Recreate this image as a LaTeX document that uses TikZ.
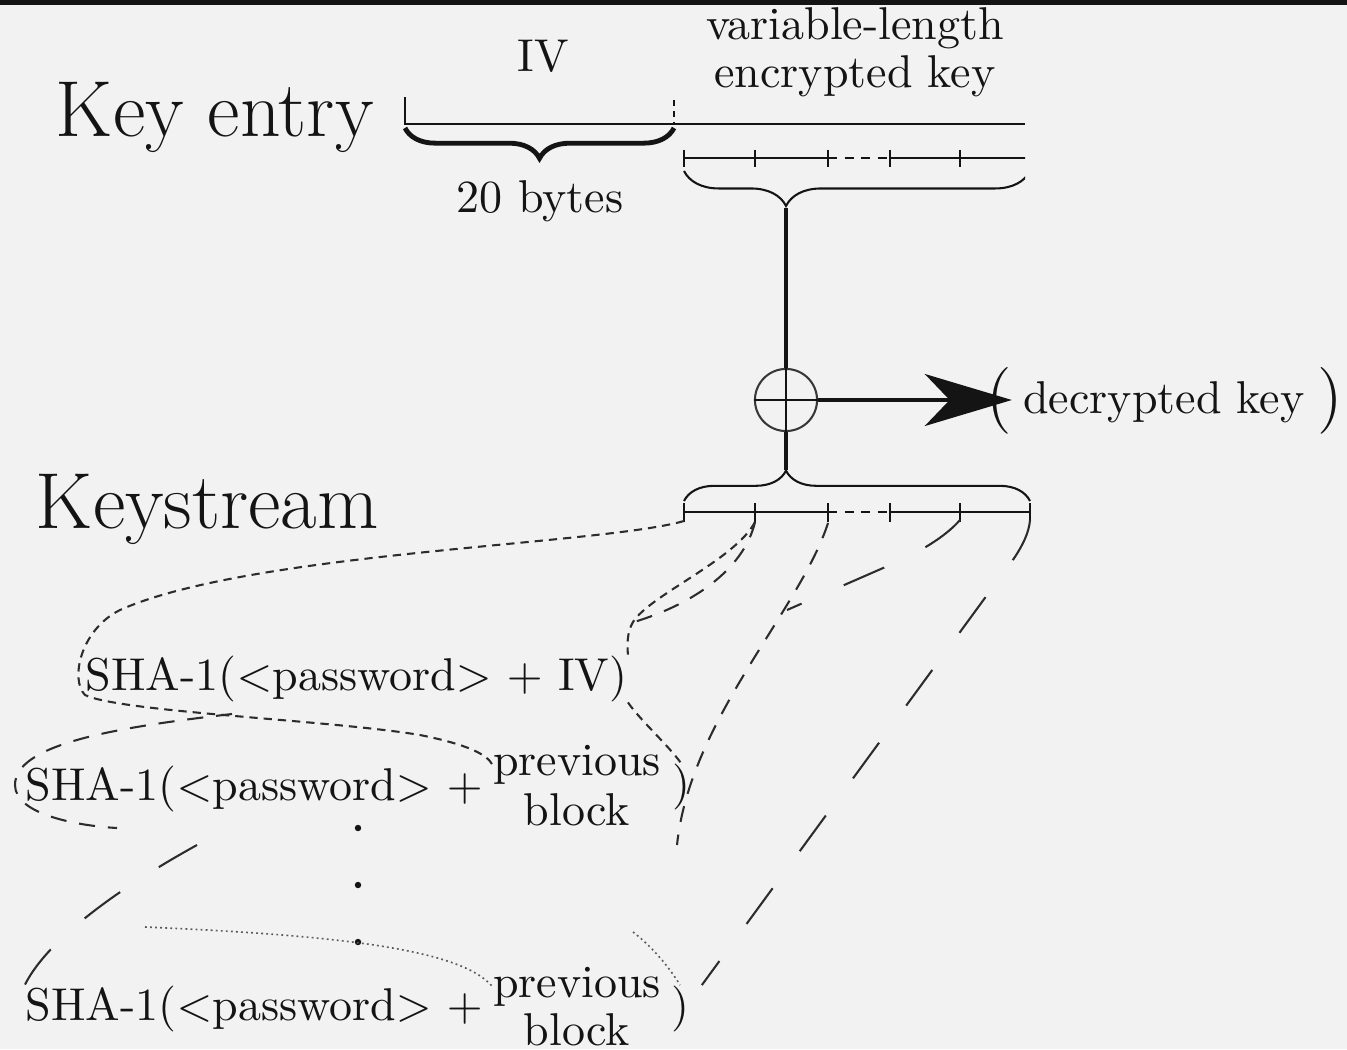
\documentclass[tikz,border=0pt]{standalone}
\usetikzlibrary{decorations.pathreplacing,arrows.meta}
\definecolor{bgc}{HTML}{F2F2F2}
\definecolor{ink}{HTML}{141414}
\begin{document}
\begin{tikzpicture}[x=0.21739pt,y=-0.21739pt,
  txt/.style={inner sep=0pt,font=\fontsize{10}{12}\selectfont,text=ink},
  big/.style={inner sep=0pt,font=\fontsize{17.28}{20}\selectfont,text=ink},
  thinln/.style={line width=0.45pt,draw=ink},
  thickln/.style={line width=0.9pt,draw=ink},
  sdash/.style={line width=0.45pt,draw=ink!90,dash pattern=on 1.8pt off 1.3pt},
  mdash/.style={line width=0.45pt,draw=ink!90,dash pattern=on 3.5pt off 2.8pt},
  ldash/.style={line width=0.45pt,draw=ink!90,dash pattern=on 9.6pt off 10pt},
  fdot/.style={line width=0.35pt,draw=ink!70,dash pattern=on 0.4pt off 0.7pt},
  dotnode/.style={circle,fill=ink,inner sep=0pt,minimum size=1.4pt},
]
% canvas
\fill[bgc] (0,0) rectangle (1347,1049);
\fill[ink] (0,0) rectangle (1347,5);
\useasboundingbox (0,0) rectangle (1347,1049);

% titles
\node[big,anchor=base west] (ke) at (55,137) {Key entry};
\node[big,anchor=base west] (ks) at (35,528) {Keystream};

% key entry labels
\node[txt,anchor=base] (iv) at (543,72) {IV};
\node[txt,anchor=base] (vl) at (855,40) {variable-length};
\node[txt,anchor=base] (ek) at (855,88) {encrypted key};
\node[txt,anchor=base] (tb) at (540,213) {20 bytes};

% key entry bar and rulers (clipped at right)
\coordinate (kL) at (405,124);
\coordinate (kM) at (674,124);
\coordinate (kR) at (1025,124);
\coordinate (kLt) at (405,97);
\coordinate (kMt) at (674,100);
\begin{scope}
  \clip (0,0) rectangle (1025,300);
  \draw[thinln] (kLt) -- (kL) -- (kR);
  \draw[thinln,dash pattern=on 1.4pt off 1pt] (kMt) -- (kM);
  \coordinate (e0) at (684,158);
  \coordinate (e2) at (828,158);
  \coordinate (e3) at (890,158);
  \coordinate (e5) at (1040,158);
  \draw[thinln] (e0) -- (e2);
  \draw[thinln,dash pattern=on 2pt off 1.6pt] (e2) -- (e3);
  \draw[thinln] (e3) -- (e5);
  \foreach \x in {684,755,828,890,960} \draw[thinln] (\x,150) -- (\x,167);
  \draw[thinln,decorate,decoration={brace,mirror,amplitude=7.6pt,aspect=0.2948}] (684,171) -- (1030,171);
\end{scope}
\draw[line width=1.05pt,draw=ink,decorate,decoration={brace,mirror,amplitude=6.6pt}] (405,128) -- (674,128);

% xor and connections
\coordinate (bt1) at (786,208);
\coordinate (bt2) at (786,470);
\node[circle,draw=ink!85,line width=0.45pt,minimum size=13.5pt,inner sep=0pt] (xor) at (786,400) {};
\draw[thinln] (xor.north) -- (xor.south) (xor.west) -- (xor.east);
\draw[thickln] (bt1) -- (xor.north);
\draw[thickln] (xor.south) -- (bt2);

% decrypted key
\node[txt,anchor=base west] (dk) at (986,413) {\raisebox{-1pt}{\fontsize{14.5}{15}\selectfont(}\hspace{2.4pt}decrypted key\hspace{2.8pt}\raisebox{-1pt}{\fontsize{14.5}{15}\selectfont)}};
\draw[thickln,-{Stealth[length=18.9pt,width=11.3pt,inset=5.4pt]},shorten >=-5.6pt] (xor.east) -- (xor.east -| dk.west);

% keystream brace and ruler
\draw[thinln,decorate,decoration={brace,amplitude=6.6pt,aspect=0.2948}] (684,501) -- (1030,501);
\draw[thinln] (684,512) -- (828,512);
\draw[thinln,dash pattern=on 2pt off 1.6pt] (828,512) -- (890,512);
\draw[thinln] (890,512) -- (1030,512);
\foreach \x in {684,755,828,890,960,1030} \draw[thinln] (\x,503) -- (\x,522);
\coordinate (t0) at (684,521);
\coordinate (t1) at (755,522);
\coordinate (t2) at (828,523);
\coordinate (t4) at (960,520);
\coordinate (t5) at (1030,520);

% SHA lines
\node[txt,anchor=base west] (h1) at (85,690) {SHA-1($<$password$>$ $+$ IV)};
\node[txt,anchor=base west] (h2) at (25,800) {SHA-1($<$password$>$ $+$};
\node[txt,anchor=base] (p2) at (577,775) {previous};
\node[txt,anchor=base] (b2) at (577,825) {block};
\node[txt] (c2) at (681,787) {)};
\node[txt,anchor=base west] (h3) at (25,1020) {SHA-1($<$password$>$ $+$};
\node[txt,anchor=base] (p3) at (577,997) {previous};
\node[txt,anchor=base] (b3) at (577,1045) {block};
\node[txt] (c3) at (680,1009) {)};

% vertical dots
\node[dotnode] (d1) at (358,828) {};
\node[dotnode] (d2) at (358,885) {};
\node[dotnode] (d3) at (358,942) {};

% first block (short dashes)
\draw[sdash] (t0) .. controls (600,545) and (250,552) .. (120,610)
  .. controls (80,630) and (70,680) .. (85,695)
  .. controls (120,712) and (330,720) .. (420,735)
  .. controls (470,745) and (487,755) .. (p2.west);
\draw[sdash] (t1) .. controls (735,560) and (650,595) .. (633,622)
  .. controls (627,632) and (627,645) .. (h1.north east);
\draw[sdash] (h1.south east) .. controls (640,720) and (668,745) .. (c2.north);

% second block (medium dashes)
\coordinate (m1a) at (634,622);
\coordinate (m1b) at (232,714);
\coordinate (m1c) at (117,828);
\coordinate (m2e) at (677,845);
\draw[mdash] (t1) .. controls (745,565) and (700,602) .. (m1a);
\draw[mdash] (m1b) .. controls (110,728) and (15,745) .. (15,785)
  .. controls (15,815) and (80,826) .. (m1c);
\draw[mdash] (t2) .. controls (800,610) and (690,720) .. (m2e);

% last block (long dashes)
\coordinate (l1a) at (787,610);
\coordinate (l1b) at (197,845);
\draw[ldash] (t4) .. controls (945,537) and (920,552) .. (890,565) -- (l1a);
\draw[ldash] (l1b) .. controls (130,882) and (50,935) .. (h3.north west);
\draw[ldash] (t5) .. controls (1028,545) and (1005,570) .. (990,591) -- ([xshift=2.6pt]c3.north east);

% previous block of the last line (dotted)
\coordinate (dt1) at (145,927);
\coordinate (dt2) at (633,932);
\draw[fdot] (dt1) .. controls (330,935) and (460,948) .. (p3.west);
\draw[fdot] (dt2) .. controls (650,945) and (668,965) .. (c3.north);
\end{tikzpicture}
\end{document}
